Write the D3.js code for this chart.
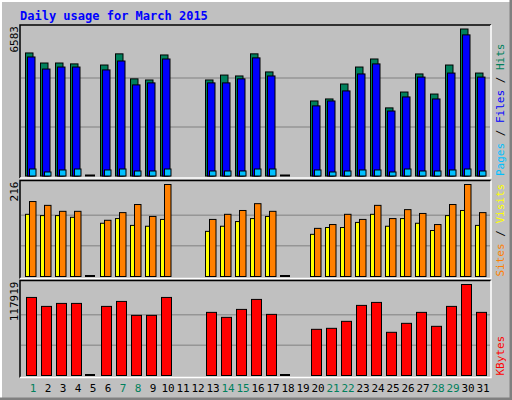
<!DOCTYPE html>
<html><head><meta charset="utf-8">
<script src="https://cdn.jsdelivr.net/npm/d3@7"></script>
<style>body{margin:0;background:#fff}svg{display:block}</style>
</head><body>
<svg id="c" width="512" height="400"></svg>
<script>
const days = d3.range(1, 32);
const weekend = [1,7,8,14,15,21,22,28,29];
const hits  = [5510,5060,5060,5020,0,4970,5470,4350,4300,5420,null,null,4300,4520,4480,5470,4660,0,null,3360,3450,4120,4880,5240,3050,3760,4570,3670,4970,6583,4610];
const files = [5330,4790,4880,4880,0,4750,5150,4080,4170,5240,null,null,4170,4170,4350,5290,4480,0,null,3140,3360,3810,4570,5020,2910,3540,4430,3450,4610,6320,4430];
const pages = [313,180,270,313,0,270,313,224,224,313,null,null,224,224,224,313,313,0,null,270,180,224,270,270,180,313,224,224,270,313,224];
const sites = [146,143,143,139,0,125,136,120,118,134,null,null,106,118,129,136,141,0,null,99,115,115,127,146,118,136,125,108,143,155,120];
const visits= [176,167,153,153,0,132,150,169,141,216,null,null,134,146,155,171,153,0,null,113,122,146,134,167,136,157,148,122,169,216,150];
const kbytes= [101150,89550,93420,93420,0,89550,95990,77920,77920,101150,null,null,81800,75340,85650,98590,79210,0,null,59840,61130,70180,90840,94710,55970,67590,81800,63720,89550,117919,81800];
const maxHits = 6583, maxVisits = 216, maxKB = 117919;

const svg = d3.select("#c");
const mono = "'DejaVu Sans Mono', monospace";
svg.append("rect").attr("width",512).attr("height",400).attr("fill","#c0c0c0");
svg.append("path").attr("d","M0,400V0H512").attr("fill","none").attr("stroke","#fff").attr("stroke-width",4);
svg.append("path").attr("d","M0,399H511V0").attr("fill","none").attr("stroke","#808080").attr("stroke-width",3);
svg.append("text").attr("x",20).attr("y",20).attr("fill","#0000ff").attr("font-family",mono)
  .attr("font-weight","bold").attr("font-size",12).text("Daily usage for March 2015");

const x = d3.scaleBand().domain(days).range([25, 490]).paddingInner(0).paddingOuter(0);

function panel(top, base, maxV, label, series, rlabels){
  const y = d3.scaleLinear().domain([0, maxV]).range([base, top]);
  svg.append("path").attr("d",`M20,${base+2}V${top-4}H491`).attr("fill","none").attr("stroke","#000").attr("stroke-width",1.5);
  svg.append("path").attr("d",`M20,${base+2}H491V${top-4}`).attr("fill","none").attr("stroke","#fff").attr("stroke-width",1.5);
  [1/3, 2/3].forEach(f=>svg.append("line").attr("x1",21).attr("x2",490)
    .attr("y1",y(maxV*f)).attr("y2",y(maxV*f)).attr("stroke","#808080").attr("stroke-width",1));
  svg.append("text").attr("transform",`translate(18,${top-3}) rotate(-90)`).attr("text-anchor","end")
    .attr("font-family",mono).attr("font-size",11).attr("fill","#000").text(label);
  series.forEach(s=>{
    const g = svg.append("g");
    days.forEach((d,i)=>{
      const v = s.data[i];
      if (v === null) return;
      if (v === 0) { if (s.zero) g.append("rect").attr("x",x(d)).attr("y",base-1.5).attr("width",10).attr("height",2).attr("fill","#000"); return; }
      g.append("rect").attr("x",x(d)+s.dx).attr("y",y(v)).attr("width",s.w).attr("height",base-y(v))
        .attr("fill",s.color).attr("stroke","#000").attr("stroke-width",1);
    });
  });
  const t = svg.append("text").attr("transform",`translate(504,${base}) rotate(-90)`)
    .attr("font-family",mono).attr("font-size",11);
  rlabels.forEach(r=>t.append("tspan").attr("fill",r[1]).text(r[0]));
}

panel(29, 176, maxHits, "6583", [
  {data:hits, color:"#00805c", dx:0.5, w:7.5, zero:true},
  {data:files, color:"#0000ff", dx:2.5, w:7.5},
  {data:pages, color:"#00c0ff", dx:4.5, w:6.5}
], [["Pages","#00c0ff"],[" / ","#000"],["Files","#0000ff"],[" / ","#000"],["Hits","#00805c"]]);

panel(184.5, 276.5, maxVisits, "216", [
  {data:sites, color:"#ffff00", dx:0.5, w:4.5, zero:true},
  {data:visits, color:"#ff8000", dx:4.5, w:6.5}
], [["Sites","#ff8000"],[" / ","#000"],["Visits","#ffff00"]]);

panel(284.5, 375.5, maxKB, "117919", [
  {data:kbytes, color:"#ff0000", dx:1.5, w:10, zero:true}
], [["KBytes","#ff0000"]]);

svg.append("g").selectAll("text").data(days).join("text")
  .attr("x",d=>x(d)+8).attr("y",392).attr("text-anchor","middle")
  .attr("font-family",mono).attr("font-size",11)
  .attr("fill",d=>weekend.includes(d)?"#00805c":"#000").text(d=>d);
</script>
</body></html>
